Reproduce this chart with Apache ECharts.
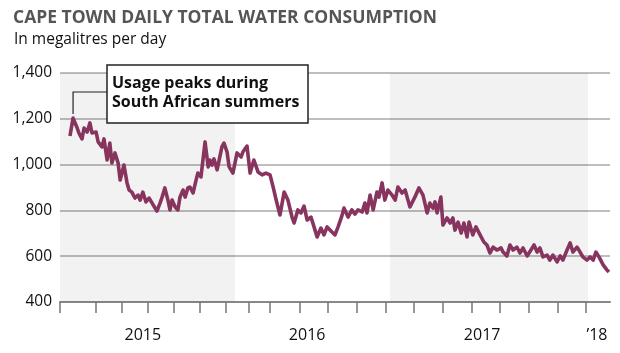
<!DOCTYPE html>
<html>
<head>
<meta charset="utf-8">
<title>Cape Town daily total water consumption</title>
<script src="https://cdn.jsdelivr.net/npm/echarts@6/dist/echarts.min.js"></script>
<style>
html, body { margin: 0; padding: 0; background: #fff; }
#chart { width: 620px; height: 353px; }
</style>
</head>
<body>
<div id="chart"></div>
<script>
// x is measured in weeks from the left edge of the axis
var weeks = [
    2.9, 3.8, 5.0, 5.5, 6.4, 7.0, 7.9, 8.7, 9.3, 10.5, 11.1, 12.2, 12.8, 13.7, 14.5, 15.1, 16.0, 16.9, 17.5, 18.6,
    19.5, 20.1, 20.9, 21.8, 22.7, 23.3, 24.1, 25.0, 25.9, 26.8, 27.3, 28.2, 29.1, 29.7, 30.5, 31.4, 32.0, 32.6, 33.5, 34.3,
    34.9, 35.8, 36.4, 37.2, 37.8, 38.7, 39.6, 40.1, 41.0, 42.2, 43.1, 43.6, 44.2, 44.8, 45.7, 46.3, 47.1, 47.7, 48.6, 49.2,
    50.3, 51.5, 52.7, 53.2, 54.4, 55.3, 56.4, 57.6, 58.8, 59.9, 61.1, 62.0, 63.1, 64.0, 65.2, 66.3, 67.5, 68.1, 69.2, 70.1,
    71.0, 71.9, 73.0, 73.9, 74.8, 75.9, 76.8, 77.7, 79.1, 80.0, 80.9, 82.0, 82.6, 83.8, 84.9, 85.8, 86.7, 87.9, 88.7, 89.3,
    90.2, 91.1, 92.2, 92.8, 93.7, 94.5, 95.4, 96.6, 97.5, 98.3, 99.5, 100.4, 101.8, 103.3, 104.4, 105.6, 106.8, 107.6, 108.5, 109.1,
    109.7, 110.8, 111.4, 112.6, 113.5, 114.3, 114.9, 115.8, 116.7, 117.5, 118.4, 119.0, 120.1, 121.0, 122.2, 123.3, 124.2, 125.1, 126.0, 127.1,
    128.3, 128.9, 130.0, 130.9, 131.8, 132.9, 133.8, 134.7, 135.9, 137.0, 137.9, 138.8, 139.6, 140.5, 141.7, 142.5, 143.4, 144.6, 145.5, 146.3,
    147.5, 148.4, 149.2, 150.4, 151.3, 152.1, 153.3, 154.2, 155.1, 155.9, 156.8, 158.0, 159.1, 159.7
];
var consumption = [
    1125, 1203, 1160, 1138, 1112, 1160, 1142, 1182, 1138, 1142, 1099, 1077, 1112, 1020, 1094, 1007, 1051, 1007, 933, 998,
    920, 889, 880, 854, 867, 845, 880, 837, 854, 832, 819, 797, 832, 858, 898, 845, 802, 845, 815, 802,
    858, 889, 858, 898, 902, 876, 933, 963, 946, 1099, 990, 1020, 998, 1025, 977, 1020, 1077, 1094, 1055, 990,
    963, 1051, 1033, 1055, 1081, 963, 1020, 968, 955, 963, 955, 902, 832, 780, 880, 845, 771, 745, 802, 789,
    819, 758, 771, 728, 684, 723, 693, 728, 706, 693, 728, 776, 810, 771, 802, 784, 802, 793, 832, 789,
    867, 802, 880, 858, 920, 845, 889, 867, 845, 902, 876, 889, 815, 860, 898, 867, 789, 832, 810, 837,
    789, 858, 736, 767, 745, 767, 714, 749, 701, 745, 684, 749, 693, 728, 693, 662, 649, 614, 640, 627,
    636, 618, 601, 649, 627, 640, 614, 636, 601, 627, 649, 618, 636, 597, 605, 583, 605, 575, 601, 583,
    627, 658, 618, 640, 618, 597, 583, 597, 583, 618, 597, 562, 540, 531
];
var tickWeeks = [0, 10.5, 18.0, 25.6, 33.2, 40.7, 48.3, 55.0, 61.1, 69.8, 78.0, 86.4, 94.8, 103.0, 111.4, 119.9, 128.0, 136.4, 144.9, 153.0];
var yearWeeks = [24.1, 71.9, 122.8, 156.2];
var yearLabels = ['2015', '2016', '2017', '\u201918'];
var shadedBands = [[0, 50.9], [96.0, 153.6]];
var noteLines = ['Usage peaks during', 'South African summers'];

var myChart = echarts.init(document.getElementById('chart'));

var option = {
    animation: false,
    backgroundColor: '#fff',
    title: [
        {
            text: 'CAPE TOWN DAILY TOTAL WATER CONSUMPTION',
            left: 8,
            top: 4,
            textStyle: { fontFamily: 'Open Sans', fontWeight: 'bold', fontSize: 17.5, color: '#555' }
        },
        {
            text: 'In megalitres per day',
            left: 9,
            top: 27,
            textStyle: { fontFamily: 'Open Sans', fontWeight: 'normal', fontSize: 15.5, color: '#111' }
        }
    ],
    grid: { left: 60, right: 10, top: 73, bottom: 51 },
    xAxis: {
        type: 'value',
        min: 0,
        max: 160,
        axisLine: { show: true, lineStyle: { color: '#888', width: 2 } },
        axisTick: {
            show: true,
            customValues: tickWeeks,
            length: 11,
            lineStyle: { color: '#777', width: 1.5 }
        },
        axisLabel: {
            customValues: yearWeeks,
            margin: 25,
            fontFamily: 'Open Sans',
            fontSize: 16,
            color: '#111',
            formatter: function (val) {
                for (var i = 0; i < yearWeeks.length; i++) {
                    if (Math.abs(yearWeeks[i] - val) < 0.01) return yearLabels[i];
                }
                return '';
            }
        },
        splitLine: { show: false }
    },
    yAxis: {
        type: 'value',
        min: 400,
        max: 1400,
        interval: 200,
        axisLine: { show: false },
        axisTick: { show: false },
        axisLabel: {
            margin: 8,
            fontFamily: 'Open Sans',
            fontSize: 15.5,
            color: '#111',
            formatter: function (val) {
                return val.toLocaleString('en-US');
            }
        },
        splitLine: { lineStyle: { color: '#a8a8a8', width: 1.5 } }
    },
    series: [
        {
            type: 'line',
            data: weeks.map(function (w, i) { return [w, consumption[i]]; }),
            showSymbol: false,
            lineStyle: { color: '#87345e', width: 3.6, join: 'round' },
            itemStyle: { color: '#87345e' },
            silent: true,
            markArea: {
                silent: true,
                itemStyle: { color: 'rgba(0,0,0,0.05)' },
                data: shadedBands.map(function (b) {
                    return [{ xAxis: b[0] }, { xAxis: b[1] }];
                })
            }
        }
    ]
};
myChart.setOption(option);

// annotation box pointing at the first summer peak
var peakIdx = consumption.indexOf(Math.max.apply(null, consumption));
var peak = myChart.convertToPixel({ gridIndex: 0 }, [weeks[peakIdx], consumption[peakIdx]]);
var boxX = 107, boxY = 65, boxW = 201, boxH = 58;
myChart.setOption({
    graphic: [
        {
            type: 'polyline',
            z: 10,
            shape: { points: [[boxX, 92], [peak[0], 92], [peak[0], peak[1] - 4]] },
            style: { stroke: '#222', lineWidth: 1.2, fill: null }
        },
        {
            type: 'rect',
            z: 10,
            shape: { x: boxX, y: boxY, width: boxW, height: boxH },
            style: { fill: '#fff', stroke: '#222', lineWidth: 1.5 }
        },
        {
            type: 'text',
            z: 11,
            x: boxX + 5,
            y: boxY + 9,
            style: {
                text: noteLines.join('\n'),
                font: 'bold 16px "Open Sans"',
                lineHeight: 19,
                fill: '#111'
            }
        }
    ]
});
</script>
</body>
</html>
